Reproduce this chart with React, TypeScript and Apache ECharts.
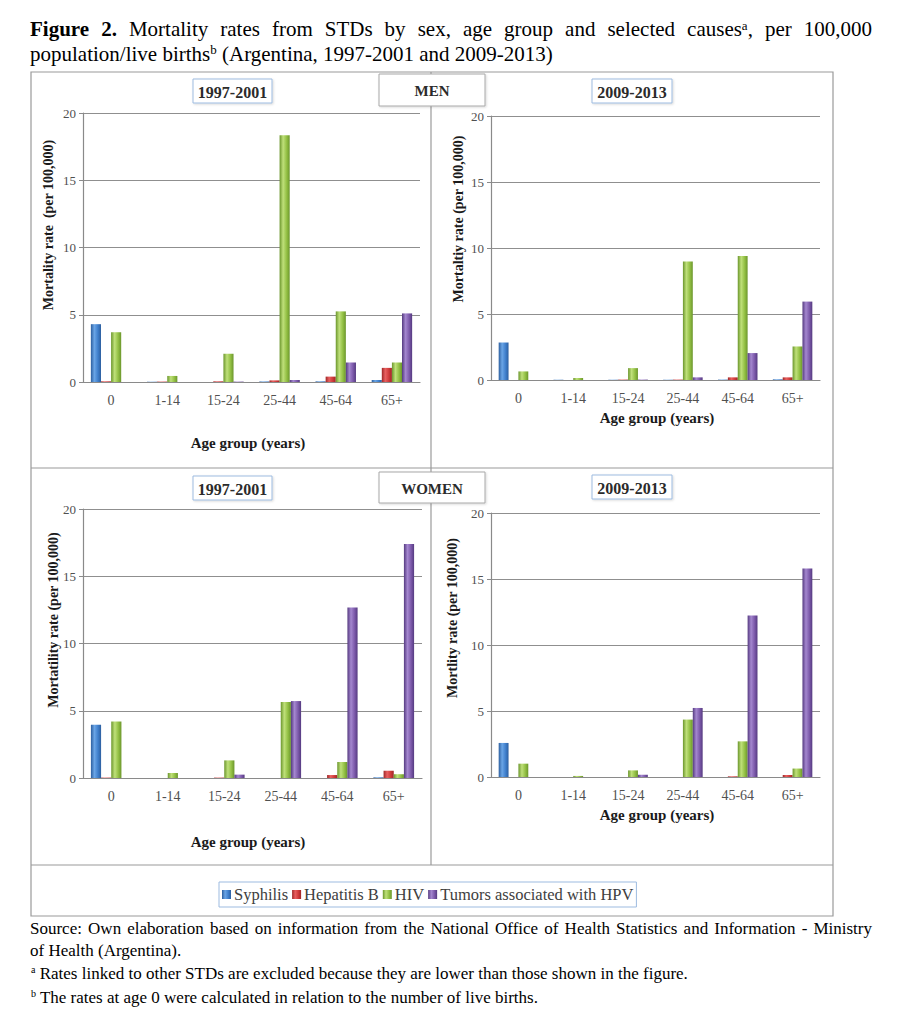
import React, { useEffect, useRef } from "react";
import * as echarts from "echarts";

const ageGroups = ["0", "1-14", "15-24", "25-44", "45-64", "65+"];
const causes = ["Syphilis", "Hepatitis B", "HIV", "Tumors associated with HPV"];

// Men 1997-2001
const menEarlySyphilis = [4.3, 0.02, 0, 0.04, 0.05, 0.15];
const menEarlyHepB = [0.05, 0.03, 0.05, 0.12, 0.4, 1.05];
const menEarlyHIV = [3.7, 0.45, 2.1, 18.35, 5.25, 1.45];
const menEarlyHPV = [0, 0, 0.03, 0.15, 1.45, 5.1];
// Men 2009-2013
const menLateSyphilis = [2.84, 0.02, 0.02, 0.02, 0.03, 0.05];
const menLateHepB = [0, 0, 0.03, 0.03, 0.2, 0.2];
const menLateHIV = [0.65, 0.15, 0.9, 8.97, 9.4, 2.54];
const menLateHPV = [0, 0, 0.03, 0.2, 2.04, 5.94];
// Women 1997-2001
const womenEarlySyphilis = [3.96, 0, 0, 0, 0, 0.05];
const womenEarlyHepB = [0.03, 0, 0.03, 0, 0.22, 0.54];
const womenEarlyHIV = [4.2, 0.37, 1.31, 5.65, 1.19, 0.28];
const womenEarlyHPV = [0, 0, 0.25, 5.72, 12.68, 17.4];
// Women 2009-2013
const womenLateSyphilis = [2.58, 0, 0, 0, 0, 0];
const womenLateHepB = [0, 0, 0, 0, 0.05, 0.15];
const womenLateHIV = [1.01, 0.08, 0.5, 4.35, 2.7, 0.64];
const womenLateHPV = [0, 0, 0.17, 5.23, 12.23, 15.8];

const yTicks = [0, 5, 10, 15, 20];

const SERIF = "Liberation Serif";

const palette = [
  ["#2d5f9f", "#6aa5e6", "#3f7fcc"],
  ["#9e2626", "#e86060", "#cf3a3a"],
  ["#6b962c", "#bfe07a", "#93c044"],
  ["#553a80", "#a487cf", "#7d5aab"],
];

function grad(i: number) {
  const [d, l, m] = palette[i];
  return new echarts.graphic.LinearGradient(0, 0, 1, 0, [
    { offset: 0, color: d },
    { offset: 0.35, color: l },
    { offset: 0.7, color: m },
    { offset: 1, color: d },
  ]);
}

const panels = [
  { grid: { left: 83, top: 113, width: 337, height: 269 }, data: [menEarlySyphilis, menEarlyHepB, menEarlyHIV, menEarlyHPV],
    yName: "Mortality rate  (per 100,000)", yNameX: 48, yNameY: 225, xName: "Age group (years)", xNameX: 248, xNameY: 443 },
  { grid: { left: 491, top: 116, width: 329, height: 264 }, data: [menLateSyphilis, menLateHepB, menLateHIV, menLateHPV],
    yName: "Mortaltiy rate (per 100,000)", yNameX: 458, yNameY: 219, xName: "Age group (years)", xNameX: 657, xNameY: 418 },
  { grid: { left: 83, top: 509, width: 339, height: 269 }, data: [womenEarlySyphilis, womenEarlyHepB, womenEarlyHIV, womenEarlyHPV],
    yName: "Mortatility rate (per 100,000)", yNameX: 53, yNameY: 620, xName: "Age group (years)", xNameX: 248, xNameY: 842 },
  { grid: { left: 491, top: 513, width: 329, height: 264 }, data: [womenLateSyphilis, womenLateHepB, womenLateHIV, womenLateHPV],
    yName: "Mortlity rate (per 100,000)", yNameX: 452, yNameY: 618, xName: "Age group (years)", xNameX: 657, xNameY: 815 },
];

function measure(text: string, font: string) {
  const c = document.createElement("canvas").getContext("2d")!;
  c.font = font;
  return c.measureText(text).width;
}

type Piece = { t: string; bold?: boolean; sup?: string; after?: string };

function justifiedLine(words: Piece[], x0: number, x1: number, y: number, size: number) {
  const normal = `${size}px "${SERIF}"`;
  const boldF = `bold ${size}px "${SERIF}"`;
  const supF = `${Math.round(size * 0.62)}px "${SERIF}"`;
  const widths = words.map((w) => {
    let wd = measure(w.t, w.bold ? boldF : normal);
    if (w.sup) wd += measure(w.sup, supF);
    if (w.after) wd += measure(w.after, normal);
    return wd;
  });
  const total = widths.reduce((a, b) => a + b, 0);
  const gap = (x1 - x0 - total) / (words.length - 1);
  const els: any[] = [];
  let x = x0;
  words.forEach((w, i) => {
    const rich = w.sup
      ? `{m|${w.t}}{s|${w.sup}}{m|${w.after || ""}}`
      : `{${w.bold ? "b" : "m"}|${w.t}}`;
    els.push({
      type: "text",
      x,
      y,
      style: {
        text: rich,
        verticalAlign: "middle",
        rich: {
          m: { fontSize: size, fontFamily: SERIF, fill: "#000" },
          b: { fontSize: size, fontFamily: SERIF, fontWeight: "bold", fill: "#000" },
          s: { fontSize: Math.round(size * 0.62), fontFamily: SERIF, fill: "#000", verticalAlign: "top", padding: [0, 0, 8, 0] },
        },
      },
    });
    x += widths[i] + gap;
  });
  return els;
}

export default function App() {
  const ref = useRef<HTMLDivElement>(null);
  useEffect(() => {
    const chart = echarts.init(ref.current!, undefined, { renderer: "svg" });

    const grids: any[] = [];
    const xAxes: any[] = [];
    const yAxes: any[] = [];
    const series: any[] = [];
    const graphics: any[] = [];

    // frame
    graphics.push(
      { type: "rect", shape: { x: 31, y: 72, width: 802, height: 844 }, style: { fill: "none", stroke: "#9a9a9a", lineWidth: 1.2 } },
      { type: "line", shape: { x1: 431, y1: 72, x2: 431, y2: 865 }, style: { stroke: "#9a9a9a", lineWidth: 1.2 } },
      { type: "line", shape: { x1: 31, y1: 468, x2: 833, y2: 468 }, style: { stroke: "#9a9a9a", lineWidth: 1.2 } },
      { type: "line", shape: { x1: 31, y1: 865, x2: 833, y2: 865 }, style: { stroke: "#9a9a9a", lineWidth: 1.2 } }
    );

    const headerBox = (x: number, y: number, w: number, h: number, text: string, stroke: string, size: number) => {
      graphics.push({
        type: "rect",
        shape: { x, y, width: w, height: h },
        style: { fill: "#fff", stroke, lineWidth: 1, shadowColor: "rgba(0,0,0,0.15)", shadowBlur: 2, shadowOffsetX: 1, shadowOffsetY: 1 },
        z: 10,
      });
      graphics.push({
        type: "text",
        x: x + w / 2,
        y: y + h / 2 + 1,
        z: 11,
        style: { text, align: "center", verticalAlign: "middle", fontSize: size, fontWeight: "bold", fontFamily: SERIF, fill: "#2b2b2b" },
      });
    };
    headerBox(193, 79, 79, 24, "1997-2001", "#9dbbe0", 16);
    headerBox(379, 74, 106, 32, "MEN", "#a8a8a8", 15);
    headerBox(592, 79, 80, 24, "2009-2013", "#9dbbe0", 16);
    headerBox(193, 476, 79, 24, "1997-2001", "#9dbbe0", 16);
    headerBox(379, 472, 106, 31, "WOMEN", "#a8a8a8", 15);
    headerBox(592, 475, 80, 24, "2009-2013", "#9dbbe0", 16);

    panels.forEach((p, gi) => {
      grids.push({ ...p.grid, containLabel: false });
      xAxes.push({
        type: "category",
        gridIndex: gi,
        data: ageGroups,
        axisLine: { lineStyle: { color: "#8a8a8a", width: 1.2 } },
        axisTick: { show: false },
        axisLabel: { color: "#505050", fontSize: 14, fontFamily: SERIF, margin: 11 },
      });
      yAxes.push({
        type: "value",
        gridIndex: gi,
        min: yTicks[0],
        max: yTicks[yTicks.length - 1],
        interval: 5,
        axisLine: { show: true, lineStyle: { color: "#8a8a8a", width: 1.2 } },
        axisTick: { show: true, length: 4, lineStyle: { color: "#8a8a8a" } },
        axisLabel: { color: "#505050", fontSize: 13, fontFamily: SERIF, margin: 7 },
        splitLine: { lineStyle: { color: "#8f8f8f", width: 1 } },
      });
      p.data.forEach((vals, si) => {
        series.push({
          type: "bar",
          name: causes[si],
          xAxisIndex: gi,
          yAxisIndex: gi,
          data: vals,
          barGap: "0%",
          barCategoryGap: "28%",
          itemStyle: { color: grad(si) },
        });
      });
      graphics.push({
        type: "text",
        x: p.yNameX,
        y: p.yNameY,
        rotation: Math.PI / 2,
        style: { text: p.yName, align: "center", verticalAlign: "middle", fontSize: 14, fontWeight: "bold", fontFamily: SERIF, fill: "#1a1a1a" },
      });
      graphics.push({
        type: "text",
        x: p.xNameX,
        y: p.xNameY,
        style: { text: p.xName, align: "center", verticalAlign: "middle", fontSize: 15, fontWeight: "bold", fontFamily: SERIF, fill: "#1a1a1a" },
      });
    });

    // Title
    graphics.push(
      ...justifiedLine(
        [
          { t: "Figure", bold: true }, { t: "2.", bold: true }, { t: "Mortality" }, { t: "rates" }, { t: "from" },
          { t: "STDs" }, { t: "by" }, { t: "sex," }, { t: "age" }, { t: "group" }, { t: "and" }, { t: "selected" },
          { t: "causes", sup: "a", after: "," }, { t: "per" }, { t: "100,000" },
        ],
        30, 872, 29, 21
      )
    );
    graphics.push({
      type: "text",
      x: 30,
      y: 54,
      style: {
        text: "{m|population/live births}{s|b}{m| (Argentina, 1997-2001 and 2009-2013)}",
        verticalAlign: "middle",
        rich: {
          m: { fontSize: 21, fontFamily: SERIF, fill: "#000" },
          s: { fontSize: 13, fontFamily: SERIF, fill: "#000", verticalAlign: "top", padding: [0, 0, 9, 0] },
        },
      },
    });

    // Footnotes
    graphics.push(
      ...justifiedLine(
        "Source: Own elaboration based on information from the National Office of Health Statistics and Information - Ministry"
          .split(" ")
          .map((t) => ({ t })),
        30, 872, 928, 17
      )
    );
    graphics.push({ type: "text", x: 30, y: 950, style: { text: "of Health (Argentina).", verticalAlign: "middle", fontSize: 17, fontFamily: SERIF, fill: "#000" } });
    graphics.push({
      type: "text",
      x: 31,
      y: 973,
      style: {
        text: "{s|a}{m| Rates linked to other STDs are excluded because they are lower than those shown in the figure.}",
        verticalAlign: "middle",
        rich: {
          m: { fontSize: 17, fontFamily: SERIF, fill: "#000" },
          s: { fontSize: 10, fontFamily: SERIF, fill: "#000", verticalAlign: "top", padding: [0, 0, 7, 0] },
        },
      },
    });
    graphics.push({
      type: "text",
      x: 31,
      y: 997,
      style: {
        text: "{s|b}{m| The rates at age 0 were calculated in relation to the number of live births.}",
        verticalAlign: "middle",
        rich: {
          m: { fontSize: 17, fontFamily: SERIF, fill: "#000" },
          s: { fontSize: 10, fontFamily: SERIF, fill: "#000", verticalAlign: "top", padding: [0, 0, 7, 0] },
        },
      },
    });

    chart.setOption({
      animation: false,
      backgroundColor: "#fff",
      legend: {
        data: causes,
        left: 219,
        top: 882,
        icon: "rect",
        itemWidth: 9,
        itemHeight: 9,
        itemGap: 4,
        padding: [4, 3, 4, 3],
        borderColor: "#9dbbe0",
        borderWidth: 1,
        textStyle: { fontSize: 16.5, fontFamily: SERIF, color: "#404040", padding: [0, 0, 0, -2] },
      },
      grid: grids,
      xAxis: xAxes,
      yAxis: yAxes,
      series,
      graphic: graphics,
    });
    return () => chart.dispose();
  }, []);
  return <div ref={ref} style={{ position: "absolute", left: 0, top: 0, width: 902, height: 1024 }} />;
}
